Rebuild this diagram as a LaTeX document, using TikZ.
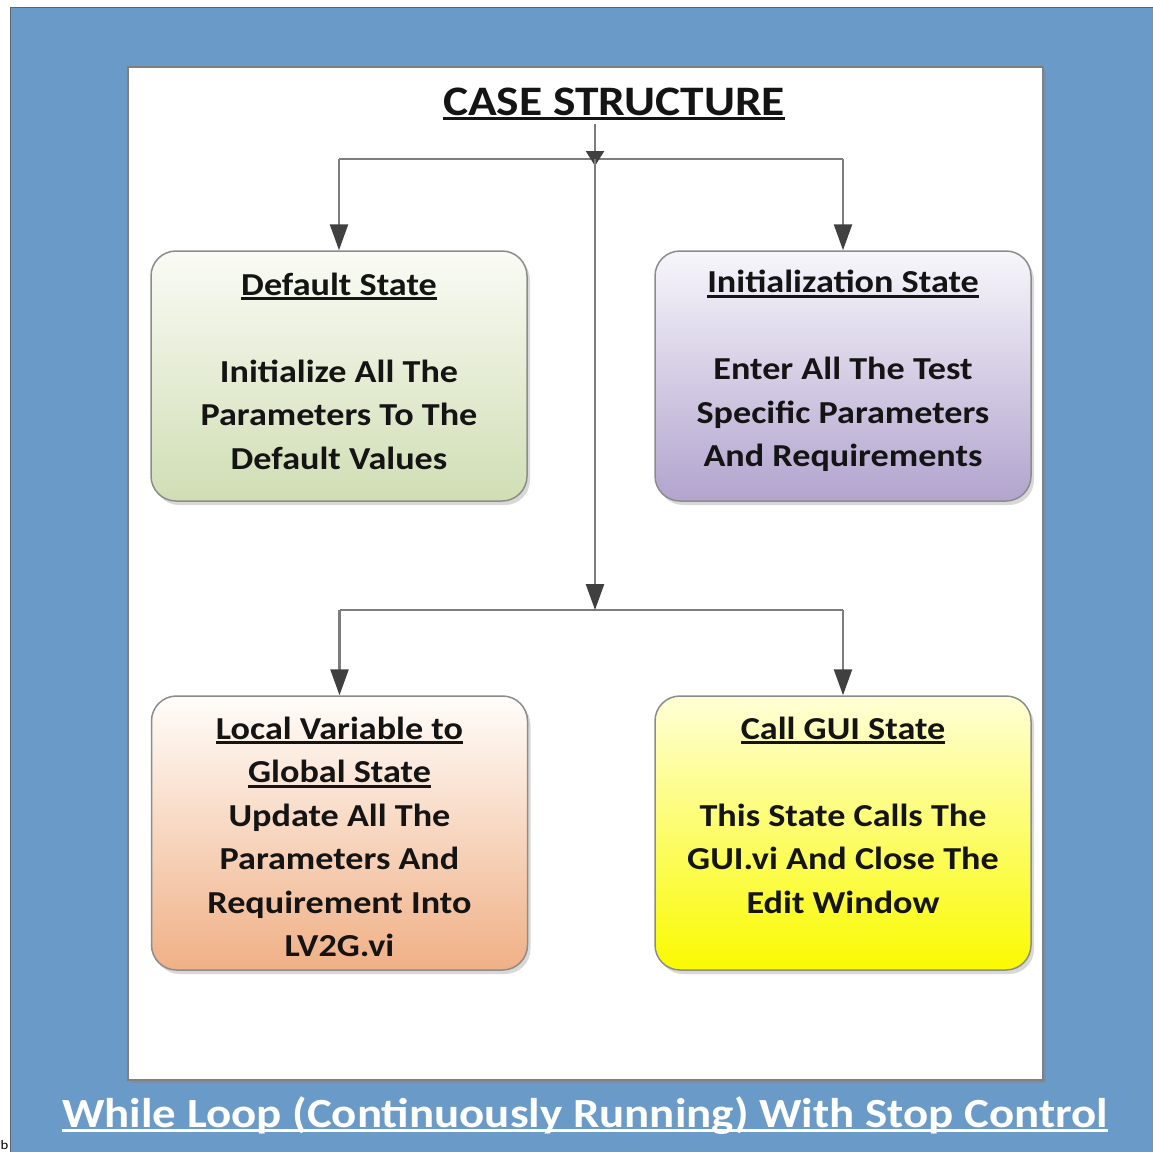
\documentclass[tikz,border=0pt]{standalone}
\usepackage{fontspec}
\setmainfont{Carlito}[FakeStretch=1.13]
\usetikzlibrary{shadows,arrows.meta}
\definecolor{loopblue}{RGB}{106,155,200}
\definecolor{frameline}{RGB}{90,100,110}
\definecolor{boxborder}{RGB}{140,140,140}
\definecolor{linegray}{RGB}{125,125,125}
\definecolor{arrowdark}{RGB}{64,64,64}
\definecolor{greentop}{RGB}{250,251,245}
\definecolor{greenbot}{RGB}{208,222,180}
\definecolor{purptop}{RGB}{247,246,251}
\definecolor{purpbot}{RGB}{178,164,206}
\definecolor{peachtop}{RGB}{255,253,250}
\definecolor{peachbot}{RGB}{240,176,134}
\definecolor{yeltop}{RGB}{255,255,215}
\definecolor{yelbot}{RGB}{250,250,0}
\definecolor{textblack}{RGB}{20,20,20}
\newcommand\myul[2][3pt]{\setbox0\hbox{#2}\rlap{\color{.}\rule[-5pt]{\wd0}{#1}}\box0}
\tikzset{
  statebox/.style={draw=boxborder, line width=1.5pt, rounded corners=25pt,
    minimum width=376pt, minimum height=250pt, inner sep=0pt,
    drop shadow={opacity=0.3, shadow xshift=3pt, shadow yshift=-4pt}},
  boxtext/.style={font=\fontsize{32}{43.5}\selectfont\bfseries, align=center, text=textblack},
  conn/.style={draw=linegray, line width=2.5pt},
  arr/.style={conn, -{Triangle[width=18pt,length=26pt,color=arrowdark]}},
  smallarr/.style={conn, -{Triangle[width=18pt,length=15pt,color=arrowdark]}},
}
\begin{document}
\begin{tikzpicture}[x=1pt,y=-1pt]
\useasboundingbox (0,0) rectangle (1153,1151);
% blue while loop frame
\fill[loopblue, draw=frameline, line width=1pt] (10,7) rectangle (1170,1170);
% white case structure
\fill[white, draw=gray, line width=2pt, drop shadow={opacity=0.35, shadow xshift=3pt, shadow yshift=-3pt}] (128,67) rectangle (1043,1080);
% title
\node[font=\fontsize{42}{48}\selectfont\bfseries, text=textblack, anchor=base, inner sep=0pt] (title) at (614,115) {\myul[3.5pt]{CASE STRUCTURE}};
% boxes
\node[statebox, top color=greentop, bottom color=greenbot] (def) at (339,376) {};
\node[statebox, top color=purptop, bottom color=purpbot] (init) at (843,376) {};
\node[statebox, minimum height=274pt, top color=peachtop, bottom color=peachbot] (lv) at (339.5,833) {};
\node[statebox, minimum height=274pt, top color=yeltop, bottom color=yelbot] (gui) at (843,833) {};
% box texts
\node[boxtext] (deft) at (339,371) {\myul{Default State}\\[43.5pt]Initialize All The\\Parameters To The\\Default Values};
\node[boxtext] (initt) at (843,371) {\myul{Initialization State}\\[43.5pt]Enter All The Test\\Specific Parameters\\And Requirements};
\node[boxtext] (lvt) at (339.5,837) {\myul{Local Variable to}\\\myul{Global State}\\Update All The\\Parameters And\\Requirement Into\\LV2G.vi};
\node[boxtext] (guit) at (843,815) {\myul{Call GUI State}\\[43.5pt]This State Calls The\\GUI.vi And Close The\\Edit Window};
% connectors
\coordinate (j1) at (595,159);
\coordinate (j2) at (595,610);
\coordinate (tl) at (def.north |- j1);
\coordinate (tr) at (init.north |- j1);
\coordinate (bl) at (lv.north |- j2);
\coordinate (br) at (gui.north |- j2);
\coordinate (ts) at (595,124);
\draw[conn] (tl) -- (tr);
\draw[conn] (bl) -- (br);
\draw[smallarr, shorten >=-7pt] (ts) -- (j1);
\draw[arr] (j1) -- (j2);
\draw[arr] (tl) -- (def.north);
\draw[arr] (tr) -- (init.north);
\draw[arr] (bl) -- (lv.north);
\draw[arr] (br) -- (gui.north);
% loop caption
\node[font=\fontsize{41.5}{48}\selectfont\bfseries, text=white, anchor=base, inner sep=0pt] (loopcap) at (585,1127) {\myul[3.5pt]{While Loop (Continuously Running) With Stop Control}};
\node[font=\fontsize{13}{15}\selectfont, text=black, anchor=base west, inner sep=0pt] (stray) at (0.5,1149) {b};
\end{tikzpicture}
\end{document}
